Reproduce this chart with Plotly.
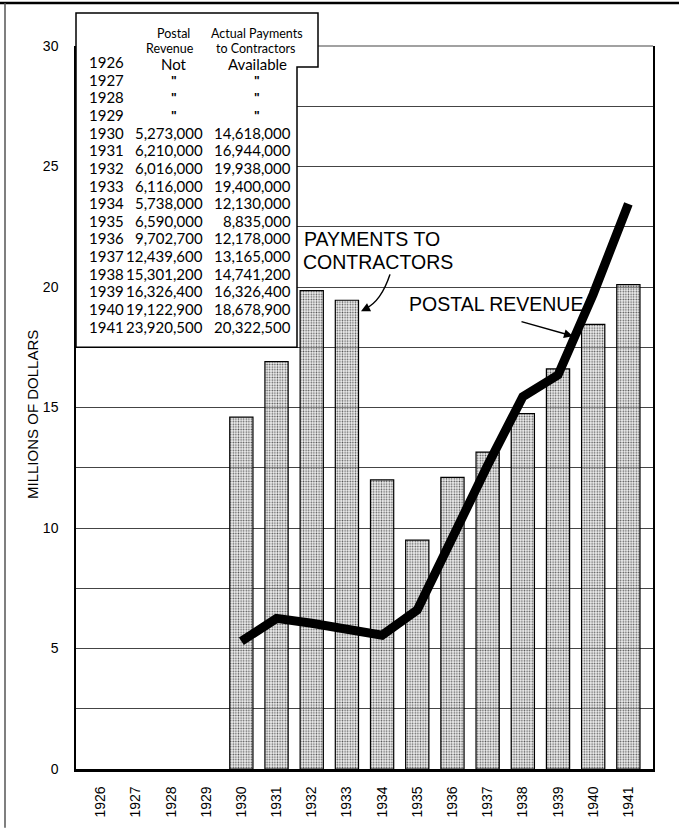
import plotly.graph_objects as go

# ---------------- data ----------------
years = [str(y) for y in range(1926, 1942)]
payments_bars = [None, None, None, None, 14.6, 16.9, 19.85, 19.45, 12.0, 9.5,
                 12.1, 13.15, 14.75, 16.6, 18.45, 20.1]
postal_line = [None, None, None, None, 5.3, 6.25, 6.05, 5.8, 5.55, 6.6,
               9.7, 12.6, 15.45, 16.35, 19.7, 23.45]

table_years = years
table_postal = ["Not", '"', '"', '"', "5,273,000", "6,210,000", "6,016,000",
                "6,116,000", "5,738,000", "6,590,000", "9,702,700", "12,439,600",
                "15,301,200", "16,326,400", "19,122,900", "23,920,500"]
table_payments = ["Available", '"', '"', '"', "14,618,000", "16,944,000",
                  "19,938,000", "19,400,000", "12,130,000", "8,835,000",
                  "12,178,000", "13,165,000", "14,741,200", "16,326,400",
                  "18,678,900", "20,322,500"]
y_tick_vals = [0, 5, 10, 15, 20, 25, 30]

# ---------------- layout helpers ----------------
W, H = 679, 830
L, R, T, B = 76, 653, 46, 771  # plot area in window pixels


def px(x):
    return (x - L) / (R - L)


def py(y):
    return (B - y) / (B - T)


fig = go.Figure()
fig.add_trace(go.Bar(
    x=years, y=payments_bars,
    marker=dict(
        color="rgba(220,220,220,0.4)",
        line=dict(color="black", width=1.2),
        pattern=dict(shape=".", fillmode="replace", fgcolor="#555555",
                     bgcolor="rgba(225,225,225,0.45)", size=2.6, solidity=0.3),
    ),
    showlegend=False,
))
fig.add_trace(go.Scatter(
    x=years, y=postal_line, mode="lines",
    line=dict(color="black", width=9),
    showlegend=False,
))

grid_col = "#444444"
fig.update_layout(
    width=W, height=H,
    margin=dict(l=L, r=W - R, t=T, b=H - B, pad=0),
    plot_bgcolor="white", paper_bgcolor="white",
    bargap=0.34,
    font=dict(family="Liberation Sans, Arial", color="black"),
    xaxis=dict(
        type="category", range=[-0.7, 15.7],
        showgrid=False, showline=True, linecolor="black", linewidth=2.5,
        ticks="outside", ticklen=9, tickcolor="rgba(0,0,0,0)",
        tickangle=-90, tickfont=dict(size=14, family="Liberation Sans, Arial"),
        fixedrange=True,
    ),
    yaxis=dict(
        range=[0, 30], tickvals=y_tick_vals,
        showgrid=True, gridcolor=grid_col, gridwidth=1,
        minor=dict(dtick=2.5, tick0=0, showgrid=True, gridcolor=grid_col,
                   gridwidth=1, ticks=""),
        showline=True, linecolor="black", linewidth=1.5, mirror=True,
        ticks="outside", ticklen=13, tickcolor="rgba(0,0,0,0)",
        tickfont=dict(size=14, family="Liberation Sans, Arial"),
        zeroline=False, fixedrange=True,
    ),
)

shapes = []
# top border line at 30
shapes.append(dict(type="line", xref="paper", yref="paper", x0=0, x1=1, y0=1, y1=1,
                   line=dict(color=grid_col, width=1.2), layer="above"))
# table box
box = (f"M {px(76)},{py(13)} L {px(318)},{py(13)} L {px(318)},{py(67)} "
       f"L {px(297)},{py(67)} L {px(297)},{py(348)} L {px(76)},{py(348)} Z")
shapes.append(dict(type="path", xref="paper", yref="paper", path=box,
                   fillcolor="white", line=dict(color="black", width=1.5),
                   layer="above"))
# outer frame (top and left)
shapes.append(dict(type="line", xref="paper", yref="paper",
                   x0=px(0), x1=px(679), y0=py(3), y1=py(3),
                   line=dict(color="black", width=2.5), layer="above"))
shapes.append(dict(type="line", xref="paper", yref="paper",
                   x0=px(5), x1=px(5), y0=py(3), y1=py(830),
                   line=dict(color="#555", width=1.5), layer="above"))
# curved arrow for payments label
shapes.append(dict(type="path", xref="paper", yref="paper",
                   path=f"M {px(390)},{py(275)} Q {px(381)},{py(302)} {px(366)},{py(309)}",
                   line=dict(color="black", width=1.5), layer="above"))
fig.update_layout(shapes=shapes)

ann = []
tf = "Lato, Noto Sans, sans-serif"
# headers
for txt, x, y in [("Postal", 173, 33), ("Revenue", 170, 49),
                  ("Actual Payments", 257, 33), ("to Contractors", 256, 49)]:
    ann.append(dict(text=txt, x=px(x), y=py(y), xref="paper", yref="paper",
                    xanchor="center", yanchor="middle", showarrow=False,
                    font=dict(family=tf, size=12.5, color="black")))
row0, step = 62, 17.7
for i, (yr, pv, pm) in enumerate(zip(table_years, table_postal, table_payments)):
    yy = row0 + i * step
    ann.append(dict(text=yr, x=px(87), y=py(yy), xref="paper", yref="paper",
                    xanchor="left", yanchor="middle", showarrow=False,
                    font=dict(family=tf, size=15, color="black")))
    if i < 4:
        if i == 0:
            f = dict(family=tf, size=15, color="black")
            off = 2
        else:
            f = dict(family="Liberation Sans, Arial", size=12, color="black",
                     weight="bold")
            off = 1
        ann.append(dict(text=pv, x=px(174), y=py(yy + off), xref="paper", yref="paper",
                        xanchor="center", yanchor="middle", showarrow=False, font=f))
        ann.append(dict(text=pm, x=px(257), y=py(yy + off), xref="paper", yref="paper",
                        xanchor="center", yanchor="middle", showarrow=False, font=f))
    else:
        ann.append(dict(text=pv, x=px(205), y=py(yy), xref="paper", yref="paper",
                        xanchor="right", yanchor="middle", showarrow=False,
                        font=dict(family=tf, size=15, color="black")))
        ann.append(dict(text=pm, x=px(293), y=py(yy), xref="paper", yref="paper",
                        xanchor="right", yanchor="middle", showarrow=False,
                        font=dict(family=tf, size=15, color="black")))

lf = dict(family="Liberation Sans, Arial", size=19.5, color="black")
for txt, x, y in [("PAYMENTS TO", 302, 240), ("CONTRACTORS", 301, 263),
                  ("POSTAL REVENUE", 407, 305)]:
    ann.append(dict(text=txt, x=px(x), y=py(y), xref="paper", yref="paper",
                    xanchor="left", yanchor="middle", showarrow=False, font=lf))
# arrowheads
ann.append(dict(text="", x=px(361), y=py(312), xref="paper", yref="paper",
                showarrow=True, ax=8, ay=-4, arrowhead=2, arrowsize=1.2,
                arrowwidth=1.5, arrowcolor="black"))
ann.append(dict(text="", x=px(573), y=py(337), xref="paper", yref="paper",
                showarrow=True, ax=-53, ay=-15, arrowhead=2, arrowsize=1.2,
                arrowwidth=1.5, arrowcolor="black"))
# y-axis title
ann.append(dict(text="MILLIONS OF DOLLARS", x=px(33), y=py(416), xref="paper",
                yref="paper", textangle=-90, showarrow=False,
                xanchor="center", yanchor="middle",
                font=dict(family="Liberation Sans, Arial", size=15, color="black")))
fig.update_layout(annotations=ann)

fig.write_html("out.html", config={"displayModeBar": False},
               post_script="document.body.style.margin='0';")
